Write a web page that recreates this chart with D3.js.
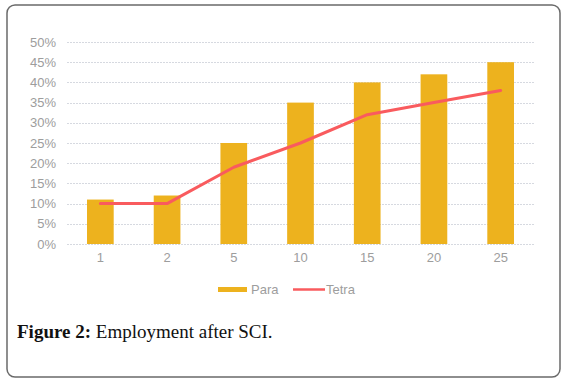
<!DOCTYPE html>
<html><head><meta charset="utf-8">
<script src="https://cdn.jsdelivr.net/npm/d3@7/dist/d3.min.js"></script>
<style>
html,body{margin:0;padding:0;background:#fff;}
svg{display:block;}
</style></head>
<body>
<script>
const categories = ["1","2","5","10","15","20","25"];
const paraValues = [11,12,25,35,40,42,45];
const tetraValues = [10,10,19,25,32,35,38];
const yTicks = [0,5,10,15,20,25,30,35,40,45,50];
const seriesNames = ["Para","Tetra"];
const captionBold = "Figure 2:";
const captionText = " Employment after SCI.";

const W = 566, H = 382;
const svg = d3.select("body").append("svg").attr("width", W).attr("height", H);

// frame
svg.append("rect").attr("x",7).attr("y",5).attr("width",553).attr("height",372)
  .attr("rx",8).attr("ry",8).attr("fill","#fff").attr("stroke","#6a6a6a").attr("stroke-width",1.5);

const x = d3.scaleBand().domain(categories).range([67,534]).paddingInner(0.6).paddingOuter(0.3);
const y = d3.scaleLinear().domain([0,50]).range([244,42]);

// grid
svg.append("g").selectAll("line").data(yTicks).join("line")
  .attr("x1",67).attr("x2",534)
  .attr("y1",d=>Math.round(y(d))+0.5).attr("y2",d=>Math.round(y(d))+0.5)
  .attr("stroke","#d6d9e0").attr("stroke-width",1).attr("stroke-dasharray","2,1");

const labelFont = "Liberation Sans, Arial, sans-serif";
// y axis labels
const yAxis = d3.axisLeft(y).tickValues(yTicks).tickFormat(d=>d+"%").tickSize(0).tickPadding(0);
const yg = svg.append("g").attr("transform","translate(56,0)").call(yAxis);
yg.select(".domain").remove();
yg.selectAll("text").attr("fill","#9d9d9d").style("font-family",labelFont).style("font-size","13px");

// x axis labels
const xAxis = d3.axisBottom(x).tickSize(0).tickPadding(0);
const xg = svg.append("g").attr("transform","translate(0,253)").call(xAxis);
xg.select(".domain").remove();
xg.selectAll("text").attr("fill","#9d9d9d").style("font-family",labelFont).style("font-size","13px");

// bars
const barColor = "#EDB21E";
const lineColor = "#F95B5E";
svg.append("g").selectAll("rect").data(categories).join("rect")
  .attr("x",d=>x(d)).attr("width",x.bandwidth())
  .attr("y",(d,i)=>y(paraValues[i])).attr("height",(d,i)=>y(0)-y(paraValues[i]))
  .attr("fill",barColor);

// line
const line = d3.line().x((d,i)=>x(categories[i])+x.bandwidth()/2).y(d=>y(d));
svg.append("path").datum(tetraValues).attr("d",line)
  .attr("fill","none").attr("stroke",lineColor).attr("stroke-width",3)
  .attr("stroke-linejoin","round").attr("stroke-linecap","round");

// legend
const lg = svg.append("g").style("font-family",labelFont).style("font-size","13px");
lg.append("rect").attr("x",218).attr("y",287).attr("width",29).attr("height",5).attr("fill",barColor);
lg.append("text").attr("x",251).attr("y",294).attr("fill","#9d9d9d").text(seriesNames[0]);
lg.append("line").attr("x1",293).attr("x2",325).attr("y1",289.5).attr("y2",289.5).attr("stroke",lineColor).attr("stroke-width",2.5);
lg.append("text").attr("x",326).attr("y",294).attr("fill","#9d9d9d").text(seriesNames[1]);

// caption
const cap = svg.append("text").attr("x",17).attr("y",338)
  .style("font-family","Liberation Serif, Times New Roman, serif").style("font-size","19px").attr("fill","#111");
cap.append("tspan").style("font-weight","bold").text(captionBold);
cap.append("tspan").text(captionText);
</script>
</body></html>
